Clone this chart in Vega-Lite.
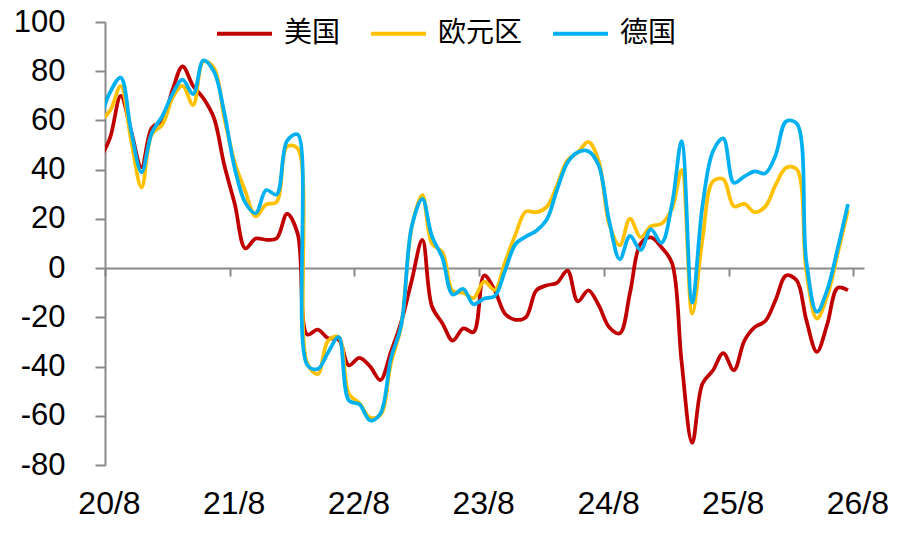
{
  "$schema": "https://vega.github.io/schema/vega-lite/v6.json",
  "width": 759,
  "height": 443,
  "autosize": {"type": "none"},
  "padding": {"left": 105, "top": 22, "right": 35, "bottom": 74},
  "background": "white",
  "config": {"view": {"stroke": null}, "font": "Liberation Sans"},
  "data": {
    "values": [
      {"date": "2020-07-16", "美国": 44, "欧元区": 59.6, "德国": 59.3},
      {"date": "2020-08-16", "美国": 53, "欧元区": 64.0, "德国": 71.5},
      {"date": "2020-09-16", "美国": 70, "欧元区": 73.9, "德国": 77.4},
      {"date": "2020-10-16", "美国": 56, "欧元区": 52.3, "德国": 56.1},
      {"date": "2020-11-16", "美国": 41, "欧元区": 32.8, "德国": 39.0},
      {"date": "2020-12-16", "美国": 57, "欧元区": 54.4, "德国": 55.0},
      {"date": "2021-01-16", "美国": 60, "欧元区": 58.3, "德国": 61.8},
      {"date": "2021-02-16", "美国": 73, "欧元区": 69.6, "德国": 71.2},
      {"date": "2021-03-16", "美国": 82, "欧元区": 74.0, "德国": 76.6},
      {"date": "2021-04-16", "美国": 74, "欧元区": 66.3, "德国": 70.7},
      {"date": "2021-05-16", "美国": 69, "欧元区": 84.0, "德国": 84.4},
      {"date": "2021-06-16", "美国": 61, "欧元区": 81.3, "德国": 79.8},
      {"date": "2021-07-16", "美国": 42, "欧元区": 61.2, "德国": 63.3},
      {"date": "2021-08-16", "美国": 26, "欧元区": 42.7, "德国": 40.4},
      {"date": "2021-09-16", "美国": 8, "欧元区": 31.1, "德国": 26.5},
      {"date": "2021-10-16", "美国": 12, "欧元区": 21.0, "德国": 22.3},
      {"date": "2021-11-16", "美国": 11.5, "欧元区": 25.9, "德国": 31.7},
      {"date": "2021-12-16", "美国": 12, "欧元区": 26.8, "德国": 29.9},
      {"date": "2022-01-16", "美国": 22, "欧元区": 49.4, "德国": 51.7},
      {"date": "2022-02-16", "美国": 14, "欧元区": 48.6, "德国": 54.3},
      {"date": "2022-03-16", "美国": -27, "欧元区": -38.7, "德国": -39.3},
      {"date": "2022-04-16", "美国": -25, "欧元区": -43.0, "德国": -41.0},
      {"date": "2022-05-16", "美国": -28.5, "欧元区": -29.5, "德国": -34.3},
      {"date": "2022-06-16", "美国": -29, "欧元区": -28.0, "德国": -28.0},
      {"date": "2022-07-16", "美国": -39.5, "欧元区": -51.1, "德国": -53.8},
      {"date": "2022-08-16", "美国": -36.5, "欧元区": -54.9, "德国": -55.3},
      {"date": "2022-09-16", "美国": -40, "欧元区": -60.7, "德国": -61.9},
      {"date": "2022-10-16", "美国": -45.5, "欧元区": -59.7, "德国": -59.2},
      {"date": "2022-11-16", "美国": -34, "欧元区": -38.7, "德国": -36.7},
      {"date": "2022-12-16", "美国": -22, "欧元区": -23.6, "德国": -23.3},
      {"date": "2023-01-16", "美国": -5, "欧元区": 16.7, "德国": 16.9},
      {"date": "2023-02-16", "美国": 11.5, "欧元区": 29.7, "德国": 28.1},
      {"date": "2023-03-16", "美国": -15.5, "欧元区": 10.0, "德国": 13.0},
      {"date": "2023-04-16", "美国": -22.5, "欧元区": 6.4, "德国": 4.1},
      {"date": "2023-05-16", "美国": -29.5, "欧元区": -9.4, "德国": -10.7},
      {"date": "2023-06-16", "美国": -24.5, "欧元区": -10.0, "德国": -8.5},
      {"date": "2023-07-16", "美国": -26, "欧元区": -12.2, "德国": -14.7},
      {"date": "2023-08-16", "美国": -3, "欧元区": -5.5, "德国": -12.3},
      {"date": "2023-09-16", "美国": -9, "欧元区": -8.9, "德国": -11.4},
      {"date": "2023-10-16", "美国": -18.5, "欧元区": 2.3, "德国": -1.1},
      {"date": "2023-11-16", "美国": -21, "欧元区": 13.8, "德国": 9.8},
      {"date": "2023-12-16", "美国": -20, "欧元区": 23.0, "德国": 12.8},
      {"date": "2024-01-16", "美国": -9, "欧元区": 22.7, "德国": 15.2},
      {"date": "2024-02-16", "美国": -7, "欧元区": 25.0, "德国": 19.9},
      {"date": "2024-03-16", "美国": -6, "欧元区": 33.5, "德国": 31.7},
      {"date": "2024-04-16", "美国": -1, "欧元区": 43.9, "德国": 42.9},
      {"date": "2024-05-16", "美国": -13.5, "欧元区": 47.0, "德国": 47.1},
      {"date": "2024-06-16", "美国": -9, "欧元区": 51.3, "德国": 47.5},
      {"date": "2024-07-16", "美国": -15, "欧元区": 43.7, "德国": 41.8},
      {"date": "2024-08-16", "美国": -24, "欧元区": 17.9, "德国": 19.2},
      {"date": "2024-09-16", "美国": -26.5, "欧元区": 9.3, "德国": 3.6},
      {"date": "2024-10-16", "美国": -10, "欧元区": 20.1, "德国": 13.1},
      {"date": "2024-11-16", "美国": 10, "欧元区": 12.5, "德国": 7.4},
      {"date": "2024-12-16", "美国": 12.5, "欧元区": 17.0, "德国": 15.7},
      {"date": "2025-01-16", "美国": 8.5, "欧元区": 18.0, "德国": 10.3},
      {"date": "2025-02-16", "美国": 2, "欧元区": 24.2, "德国": 26.0},
      {"date": "2025-03-16", "美国": -38, "欧元区": 39.8, "德国": 51.6},
      {"date": "2025-04-16", "美国": -71, "欧元区": -18.5, "德国": -14.0},
      {"date": "2025-05-16", "美国": -47, "欧元区": 11.6, "德国": 25.2},
      {"date": "2025-06-16", "美国": -41.5, "欧元区": 35.3, "德国": 47.5},
      {"date": "2025-07-16", "美国": -34.5, "欧元区": 36.1, "德国": 52.7},
      {"date": "2025-08-16", "美国": -41.5, "欧元区": 25.1, "德国": 34.7},
      {"date": "2025-09-16", "美国": -29.5, "欧元区": 26.1, "德国": 37.3},
      {"date": "2025-10-16", "美国": -24, "欧元区": 22.7, "德国": 39.3},
      {"date": "2025-11-16", "美国": -21.5, "欧元区": 25.0, "德国": 38.5},
      {"date": "2025-12-16", "美国": -13, "欧元区": 33.7, "德国": 45.8},
      {"date": "2026-01-16", "美国": -3, "欧元区": 40.8, "德国": 59.6},
      {"date": "2026-02-16", "美国": -5, "欧元区": 40.2, "德国": 58.8},
      {"date": "2026-03-16", "美国": -21, "欧元区": -1, "德国": 3},
      {"date": "2026-04-16", "美国": -34, "欧元区": -20.5, "德国": -17.8},
      {"date": "2026-05-16", "美国": -23, "欧元区": -11.5, "德国": -9},
      {"date": "2026-06-16", "美国": -8, "欧元区": 6, "德国": 8},
      {"date": "2026-07-16", "美国": -9, "欧元区": 23.5, "德国": 26}
    ]
  },
  "transform": [{"fold": ["美国", "欧元区", "德国"], "as": ["series", "value"]}],
  "mark": {"type": "line", "interpolate": "catmull-rom", "strokeWidth": 3.75, "clip": true},
  "encoding": {
    "x": {
      "field": "date",
      "type": "temporal",
      "scale": {
        "type": "utc",
        "domain": [
          {"year": 2020, "month": 8, "date": 1, "utc": true},
          {"year": 2026, "month": 9, "date": 1, "utc": true}
        ]
      },
      "axis": {
        "title": null,
        "values": [
          {"year": 2020, "month": 8, "date": 1, "utc": true},
          {"year": 2021, "month": 8, "date": 1, "utc": true},
          {"year": 2022, "month": 8, "date": 1, "utc": true},
          {"year": 2023, "month": 8, "date": 1, "utc": true},
          {"year": 2024, "month": 8, "date": 1, "utc": true},
          {"year": 2025, "month": 8, "date": 1, "utc": true},
          {"year": 2026, "month": 8, "date": 1, "utc": true}
        ],
        "labelExpr": "utcFormat(datum.value, '%y/%-m')",
        "offset": -197,
        "grid": false,
        "domainColor": "#898989",
        "domainWidth": 2,
        "tickColor": "#898989",
        "tickWidth": 2,
        "tickSize": 8,
        "labelFontSize": 32,
        "labelColor": "black",
        "labelPadding": 212,
        "labelOffset": 4,
        "labelFlush": false,
        "labelOverlap": false,
        "labelBound": false
      }
    },
    "y": {
      "field": "value",
      "type": "quantitative",
      "scale": {"domain": [-80, 100], "nice": false, "zero": false},
      "axis": {
        "title": null,
        "values": [-80, -60, -40, -20, 0, 20, 40, 60, 80, 100],
        "labelExpr": "datum.value < 0 ? '-' + abs(datum.value) : '' + datum.value",
        "grid": false,
        "domainColor": "#898989",
        "domainWidth": 2,
        "tickColor": "#898989",
        "tickWidth": 2,
        "tickSize": 10,
        "labelFontSize": 31,
        "labelColor": "black",
        "labelPadding": 30
      }
    },
    "color": {
      "field": "series",
      "type": "nominal",
      "scale": {"domain": ["美国", "欧元区", "德国"], "range": ["#C00000", "#FFC000", "#00B0F0"]},
      "legend": {
        "title": null,
        "orient": "none",
        "legendX": 110,
        "legendY": -18,
        "direction": "horizontal",
        "symbolType": "stroke",
        "symbolStrokeWidth": 4,
        "symbolSize": 3025,
        "labelFontSize": 28,
        "labelFont": "Noto Sans CJK SC",
        "labelColor": "black",
        "labelOffset": 10,
        "columnPadding": 22
      }
    }
  }
}
